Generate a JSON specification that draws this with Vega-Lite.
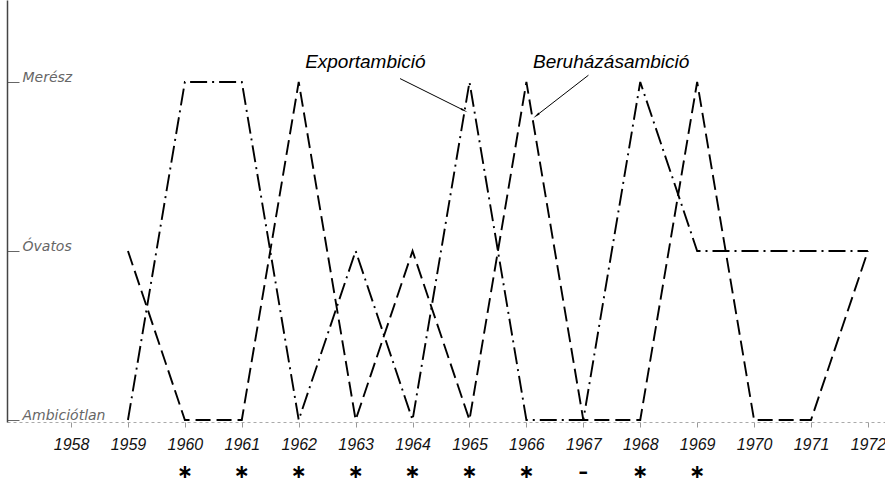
{
  "$schema": "https://vega.github.io/schema/vega-lite/v6.json",
  "width": 878,
  "height": 422,
  "autosize": {"type": "none"},
  "padding": {"left": 7, "top": 0, "right": 0, "bottom": 63},
  "background": "white",
  "config": {"view": {"stroke": null}},
  "datasets": {
    "lines": [
      {"year": 1959, "series": "Export", "level": 0},
      {"year": 1960, "series": "Export", "level": 2},
      {"year": 1961, "series": "Export", "level": 2},
      {"year": 1962, "series": "Export", "level": 0},
      {"year": 1963, "series": "Export", "level": 1},
      {"year": 1964, "series": "Export", "level": 0},
      {"year": 1965, "series": "Export", "level": 2},
      {"year": 1966, "series": "Export", "level": 0},
      {"year": 1967, "series": "Export", "level": 0},
      {"year": 1968, "series": "Export", "level": 2},
      {"year": 1969, "series": "Export", "level": 1},
      {"year": 1970, "series": "Export", "level": 1},
      {"year": 1971, "series": "Export", "level": 1},
      {"year": 1972, "series": "Export", "level": 1},
      {"year": 1959, "series": "Beruhazas", "level": 1},
      {"year": 1960, "series": "Beruhazas", "level": 0},
      {"year": 1961, "series": "Beruhazas", "level": 0},
      {"year": 1962, "series": "Beruhazas", "level": 2},
      {"year": 1963, "series": "Beruhazas", "level": 0},
      {"year": 1964, "series": "Beruhazas", "level": 1},
      {"year": 1965, "series": "Beruhazas", "level": 0},
      {"year": 1966, "series": "Beruhazas", "level": 2},
      {"year": 1967, "series": "Beruhazas", "level": 0},
      {"year": 1968, "series": "Beruhazas", "level": 0},
      {"year": 1969, "series": "Beruhazas", "level": 2},
      {"year": 1970, "series": "Beruhazas", "level": 0},
      {"year": 1971, "series": "Beruhazas", "level": 0},
      {"year": 1972, "series": "Beruhazas", "level": 1}
    ],
    "stars": [
      {"year": 1960, "sym": "∗"},
      {"year": 1961, "sym": "∗"},
      {"year": 1962, "sym": "∗"},
      {"year": 1963, "sym": "∗"},
      {"year": 1964, "sym": "∗"},
      {"year": 1965, "sym": "∗"},
      {"year": 1966, "sym": "∗"},
      {"year": 1967, "sym": "–"},
      {"year": 1968, "sym": "∗"},
      {"year": 1969, "sym": "∗"}
    ],
    "notes": [
      {"name": "Export", "label": "Exportambició", "x": 1963.17, "y": 2.118, "x1": 1963.78, "y1": 2.02, "x2": 1964.89, "y2": 1.834},
      {"name": "Beruhazas", "label": "Beruházásambició", "x": 1967.49, "y": 2.118, "x1": 1967.09, "y1": 2.04, "x2": 1966.19, "y2": 1.805}
    ]
  },
  "encoding": {
    "x": {
      "type": "quantitative",
      "scale": {"domain": [1956.875, 1972.3], "nice": false, "zero": false},
      "axis": {
        "values": [1958, 1959, 1960, 1961, 1962, 1963, 1964, 1965, 1966, 1967, 1968, 1969, 1970, 1971, 1972],
        "format": "d", "title": null, "grid": false,
        "domainColor": "#aaa", "domainDash": [3, 3], "domainWidth": 1,
        "tickColor": "#999", "tickSize": 5, "tickWidth": 1,
        "labelFont": "Liberation Sans", "labelFontStyle": "italic",
        "labelFontSize": 16, "labelColor": "#111", "labelPadding": 9, "labelFlush": false
      }
    },
    "y": {
      "type": "quantitative",
      "scale": {"domain": [-0.012, 2.485], "nice": false, "zero": false},
      "axis": {
        "values": [0, 1, 2], "title": null, "grid": false,
        "labelExpr": "datum.value == 0 ? 'Ambiciótlan' : datum.value == 1 ? 'Óvatos' : 'Merész'",
        "domainColor": "#444", "domainWidth": 1.5,
        "tickColor": "#666", "tickSize": -12, "tickWidth": 1,
        "labelAlign": "left", "labelBaseline": "alphabetic", "labelPadding": -3,
        "labelFont": "DejaVu Sans", "labelFontStyle": "italic", "labelFontSize": 14,
        "labelColor": "#666"
      }
    }
  },
  "layer": [
    {
      "data": {"name": "lines"},
      "mark": {"type": "line", "color": "black", "strokeWidth": 1.9, "strokeCap": "butt"},
      "encoding": {
        "x": {"field": "year", "type": "quantitative"},
        "y": {"field": "level", "type": "quantitative"},
        "detail": {"field": "series"},
        "strokeDash": {
          "field": "series", "type": "nominal",
          "scale": {"domain": ["Export", "Beruhazas"], "range": [[17, 5, 2, 5], [15, 6]]},
          "legend": null
        }
      }
    },
    {
      "data": {"name": "stars"},
      "mark": {"type": "text", "font": "DejaVu Sans", "fontSize": 19, "fontWeight": "bold", "baseline": "middle", "align": "center", "color": "black", "clip": false},
      "encoding": {
        "x": {"field": "year", "type": "quantitative"},
        "y": {"datum": -0.31, "type": "quantitative"},
        "text": {"field": "sym"}
      }
    },
    {
      "data": {"name": "notes"},
      "mark": {"type": "text", "font": "Liberation Sans", "fontStyle": "italic", "fontSize": 19, "baseline": "middle", "align": "center", "color": "black"},
      "encoding": {
        "x": {"field": "x", "type": "quantitative"},
        "y": {"field": "y", "type": "quantitative"},
        "text": {"field": "label"}
      }
    },
    {
      "data": {"name": "notes"},
      "mark": {"type": "rule", "color": "black", "strokeWidth": 1},
      "encoding": {
        "x": {"field": "x1", "type": "quantitative"},
        "y": {"field": "y1", "type": "quantitative"},
        "x2": {"field": "x2"},
        "y2": {"field": "y2"}
      }
    },
    {
      "data": {"name": "notes"},
      "transform": [{"filter": "datum.name == 'Export'"}],
      "mark": {"type": "point", "shape": "wedge", "filled": true, "color": "black", "size": 70, "angle": 117, "opacity": 1},
      "encoding": {
        "x": {"field": "x2", "type": "quantitative"},
        "y": {"field": "y2", "type": "quantitative"}
      }
    },
    {
      "data": {"name": "notes"},
      "transform": [{"filter": "datum.name == 'Beruhazas'"}],
      "mark": {"type": "point", "shape": "wedge", "filled": true, "color": "black", "size": 70, "angle": 232, "opacity": 1},
      "encoding": {
        "x": {"field": "x2", "type": "quantitative"},
        "y": {"field": "y2", "type": "quantitative"}
      }
    }
  ]
}
